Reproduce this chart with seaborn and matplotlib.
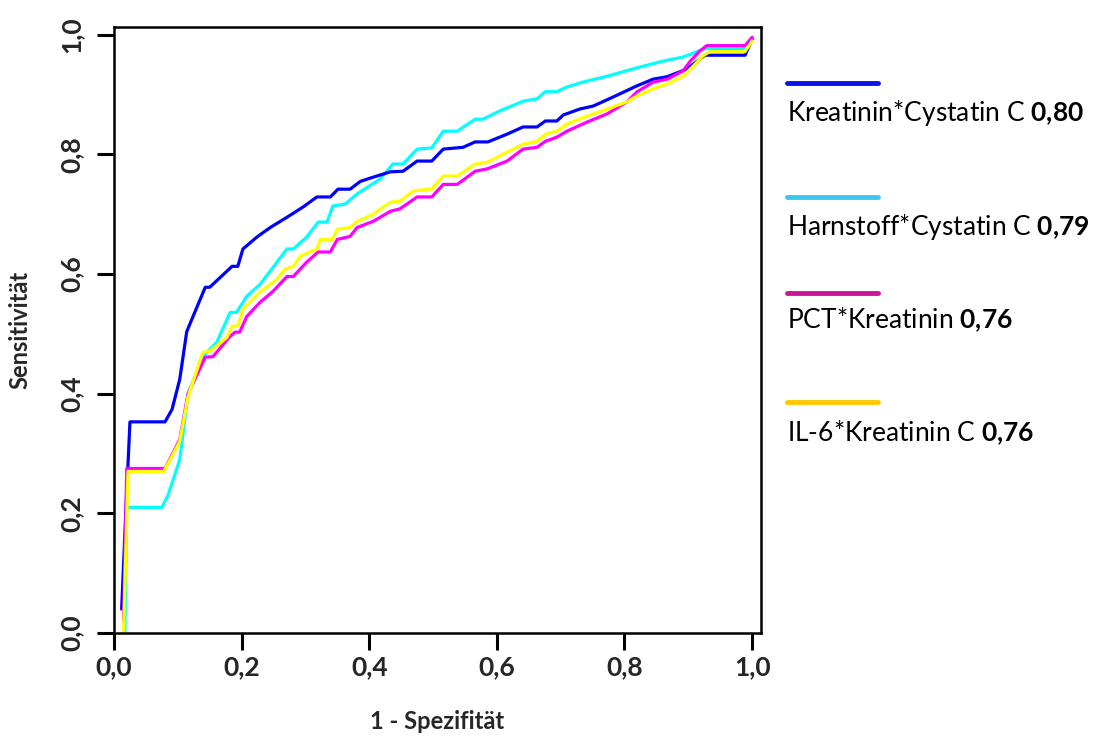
import numpy as np
import pandas as pd
import seaborn as sns
import matplotlib
matplotlib.use("Agg")
import matplotlib.pyplot as plt
from matplotlib.lines import Line2D

# ROC curves
blue_x = [0.012, 0.018, 0.025, 0.08, 0.091, 0.103, 0.114, 0.143, 0.150, 0.185, 0.194, 0.202,
          0.224, 0.245, 0.271, 0.296, 0.318, 0.339, 0.351, 0.370, 0.386, 0.406, 0.433, 0.453,
          0.475, 0.498, 0.516, 0.547, 0.566, 0.586, 0.616, 0.641, 0.663, 0.676, 0.694, 0.704,
          0.730, 0.751, 0.782, 0.820, 0.845, 0.867, 0.898, 0.914, 0.926, 0.989, 1.0]
blue_y = [0.04, 0.19, 0.353, 0.353, 0.374, 0.424, 0.504, 0.578, 0.578, 0.613, 0.613, 0.642,
          0.662, 0.678, 0.695, 0.712, 0.729, 0.729, 0.742, 0.742, 0.755, 0.762, 0.771, 0.772,
          0.789, 0.789, 0.809, 0.812, 0.821, 0.821, 0.834, 0.846, 0.846, 0.856, 0.856, 0.866,
          0.876, 0.881, 0.896, 0.915, 0.926, 0.930, 0.943, 0.956, 0.966, 0.966, 0.993]

cyan_x = [0.017, 0.020, 0.075, 0.085, 0.103, 0.116, 0.139, 0.161, 0.182, 0.192, 0.208, 0.229,
          0.249, 0.271, 0.281, 0.302, 0.320, 0.334, 0.343, 0.362, 0.381, 0.417, 0.437, 0.453,
          0.475, 0.498, 0.516, 0.538, 0.566, 0.578, 0.605, 0.641, 0.663, 0.676, 0.694, 0.710,
          0.735, 0.773, 0.820, 0.856, 0.892, 0.914, 0.926, 0.989, 1.0]
cyan_y = [0.0, 0.21, 0.21, 0.231, 0.29, 0.40, 0.462, 0.486, 0.536, 0.536, 0.563, 0.583,
          0.611, 0.642, 0.642, 0.662, 0.687, 0.687, 0.714, 0.717, 0.734, 0.759, 0.784, 0.784,
          0.809, 0.811, 0.839, 0.839, 0.859, 0.859, 0.873, 0.889, 0.893, 0.905, 0.905, 0.913,
          0.921, 0.931, 0.945, 0.955, 0.963, 0.972, 0.977, 0.977, 0.993]

magenta_x = [0.015, 0.020, 0.080, 0.103, 0.116, 0.143, 0.155, 0.182, 0.190, 0.197, 0.208, 0.229,
             0.249, 0.271, 0.281, 0.302, 0.320, 0.339, 0.350, 0.370, 0.381, 0.406, 0.433, 0.448,
             0.475, 0.498, 0.516, 0.538, 0.566, 0.585, 0.616, 0.641, 0.663, 0.676, 0.694, 0.710,
             0.741, 0.773, 0.804, 0.820, 0.845, 0.867, 0.892, 0.903, 0.918, 0.929, 0.989, 1.0]
magenta_y = [0.02, 0.275, 0.275, 0.323, 0.40, 0.461, 0.462, 0.496, 0.503, 0.503, 0.529, 0.553,
             0.571, 0.596, 0.596, 0.620, 0.637, 0.637, 0.658, 0.663, 0.678, 0.688, 0.705, 0.709,
             0.729, 0.729, 0.750, 0.750, 0.772, 0.776, 0.789, 0.809, 0.812, 0.822, 0.829, 0.839,
             0.854, 0.868, 0.888, 0.905, 0.921, 0.926, 0.940, 0.956, 0.973, 0.982, 0.982, 0.996]

yellow_x = [0.015, 0.022, 0.078, 0.103, 0.116, 0.139, 0.150, 0.177, 0.185, 0.194, 0.202, 0.229,
            0.255, 0.268, 0.281, 0.292, 0.318, 0.323, 0.342, 0.350, 0.370, 0.381, 0.406, 0.433,
            0.448, 0.469, 0.491, 0.498, 0.516, 0.538, 0.566, 0.585, 0.616, 0.641, 0.663, 0.676,
            0.694, 0.710, 0.741, 0.773, 0.804, 0.820, 0.845, 0.867, 0.892, 0.908, 0.923, 0.934,
            0.989, 1.0]
yellow_y = [0.0, 0.27, 0.27, 0.32, 0.395, 0.469, 0.471, 0.494, 0.513, 0.513, 0.541, 0.570,
            0.591, 0.608, 0.613, 0.630, 0.642, 0.658, 0.658, 0.675, 0.678, 0.688, 0.700, 0.720,
            0.722, 0.739, 0.742, 0.742, 0.764, 0.764, 0.784, 0.787, 0.804, 0.817, 0.822, 0.834,
            0.839, 0.851, 0.864, 0.876, 0.888, 0.898, 0.910, 0.918, 0.931, 0.948, 0.965, 0.972,
            0.972, 0.99]

names = ["Kreatinin*Cystatin C", "Harnstoff*Cystatin C", "PCT*Kreatinin", "IL-6*Kreatinin C"]
auc_labels = ["0,80", "0,79", "0,76", "0,76"]
tick_vals = [0.0, 0.2, 0.4, 0.6, 0.8, 1.0]
tick_labels = ["0,0", "0,2", "0,4", "0,6", "0,8", "1,0"]

curve_colors = ["#0000FF", "#00FFFF", "#FF00FF", "#FFFF00"]
legend_colors = ["#0A14E6", "#3CC8F0", "#CC1599", "#FFC800"]

sns.set_theme(style="white")
plt.rcParams["font.family"] = ["Lato", "DejaVu Sans"]
plt.rcParams["mathtext.fontset"] = "custom"
plt.rcParams["mathtext.rm"] = "Lato"
plt.rcParams["mathtext.bf"] = "Lato:bold"

series = [(blue_x, blue_y), (cyan_x, cyan_y), (magenta_x, magenta_y), (yellow_x, yellow_y)]
frames = []
for name, (xs, ys) in zip(names, series):
    frames.append(pd.DataFrame({"fpr": xs, "tpr": ys, "model": name}))
df = pd.concat(frames, ignore_index=True)

fig = plt.figure(figsize=(10.93, 7.38), dpi=100)
ax = fig.add_axes([0.1043, 0.1423, 0.592, 0.821])

# draw order: cyan, blue, magenta, yellow
for i in [1, 0, 2, 3]:
    sub = df[df["model"] == names[i]]
    sns.lineplot(data=sub, x="fpr", y="tpr", sort=False, estimator=None,
                 color=curve_colors[i], linewidth=2.3, ax=ax, legend=False)

ax.set_xlim(0, 1.014)
ax.set_ylim(0, 1.013)
ax.set_xticks(tick_vals)
ax.set_xticklabels(tick_labels, fontsize=19, fontweight="bold")
ax.set_yticks(tick_vals)
ax.set_yticklabels(tick_labels, fontsize=19, fontweight="bold", rotation=90, va="center")
ax.tick_params(axis="both", direction="out", length=12, width=2.2, color="black",
               bottom=True, left=True, pad=4)
ax.tick_params(axis="y", pad=10)
for s in ax.spines.values():
    s.set_color("black")
    s.set_linewidth(1.8)
ax.set_xlabel("1 - Spezifität", fontsize=17, fontweight="bold", labelpad=22)
ax.set_ylabel("Sensitivität", fontsize=17, fontweight="bold", labelpad=20)

# legend outside the plot, drawn by hand
W, H = 1093, 738
line_py = [83, 197, 293, 402]
text_base_py = [121, 235, 328, 441]
for i in range(4):
    fig.add_artist(Line2D([787 / W, 878 / W], [1 - line_py[i] / H] * 2,
                          color=legend_colors[i], linewidth=3.5, transform=fig.transFigure))
    num = auc_labels[i].replace(",", "{,}")
    fig.text(787 / W, 1 - text_base_py[i] / H, names[i] + r" $\mathbf{" + num + "}$",
             fontsize=19, va="baseline", ha="left", color="black")

fig.savefig("out.png", dpi=100, facecolor="white")
